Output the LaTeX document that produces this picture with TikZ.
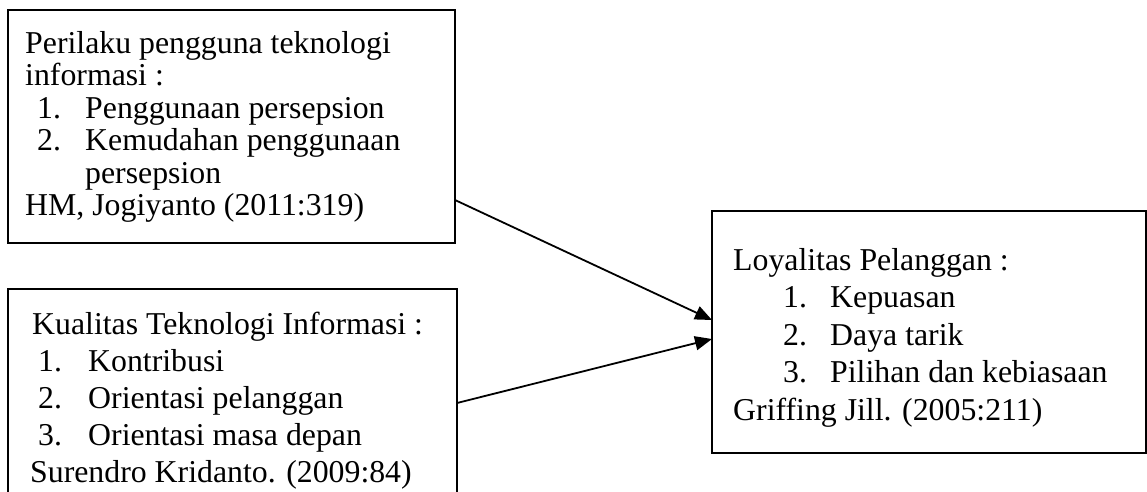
\documentclass[tikz,border=0pt]{standalone}
\usepackage{fontspec}
\setmainfont{Liberation Serif}
\usetikzlibrary{arrows.meta}
\begin{document}
\begin{tikzpicture}[x=1pt,y=-1pt,
  box/.style={draw, line width=2pt, inner sep=0pt, outer sep=0pt, anchor=north west},
  txt/.style={anchor=base west, inner sep=0pt, font=\fontsize{31.8}{32}\selectfont},
  conn/.style={line width=1.8pt, -{Triangle[length=17pt,width=14pt]}}]
\useasboundingbox (0,0) rectangle (1147,491);
\clip (0,0) rectangle (1147,491);
% boxes
\node[box, minimum width=447pt, minimum height=233pt] (b1) at (8,10) {};
\node[box, minimum width=449pt, minimum height=240pt] (b2) at (8,289) {};
\node[box, minimum width=434pt, minimum height=242pt] (b3) at (712,211) {};
% box 1 text
\node[txt] (t11) at (25,53) {Perilaku pengguna teknologi};
\node[txt] (t12) at (25,85.5) {informasi :};
\node[txt] (n11) at (37,118) {1.};
\node[txt] (t13) at (85,118) {Penggunaan persepsion};
\node[txt] (n12) at (37,150.5) {2.};
\node[txt] (t14) at (85,150.5) {Kemudahan penggunaan};
\node[txt] (t15) at (85,183) {persepsion};
\node[txt] (t16) at (25,215.5) {HM, Jogiyanto (2011:319)};
% box 2 text
\node[txt] (t21) at (32,334) {Kualitas Teknologi Informasi :};
\node[txt] (n21) at (38,371) {1.};
\node[txt] (t22) at (88,371) {Kontribusi};
\node[txt] (n22) at (38,408) {2.};
\node[txt] (t23) at (88,408) {Orientasi pelanggan};
\node[txt] (n23) at (38,445) {3.};
\node[txt] (t24) at (88,445) {Orientasi masa depan};
\node[txt] (t25) at (30,482) {Surendro Kridanto. (2009:84)};
% box 3 text
\node[txt] (t31) at (733,270) {Loyalitas Pelanggan :};
\node[txt] (n31) at (783,307.5) {1.};
\node[txt] (t32) at (830,307.5) {Kepuasan};
\node[txt] (n32) at (783,345) {2.};
\node[txt] (t33) at (830,345) {Daya tarik};
\node[txt] (n33) at (783,382.5) {3.};
\node[txt] (t34) at (830,382.5) {Pilihan dan kebiasaan};
\node[txt] (t35) at (733,420) {Griffing Jill. (2005:211)};
% connector ends
\coordinate (s1) at (b1.east |- 0,200);
\coordinate (e1) at (b3.west |- 0,320);
\coordinate (s2) at (b2.east |- 0,403);
\coordinate (e2) at (b3.west |- 0,339);
\draw[conn] (s1) -- (e1);
\draw[conn] (s2) -- (e2);
\end{tikzpicture}
\end{document}
